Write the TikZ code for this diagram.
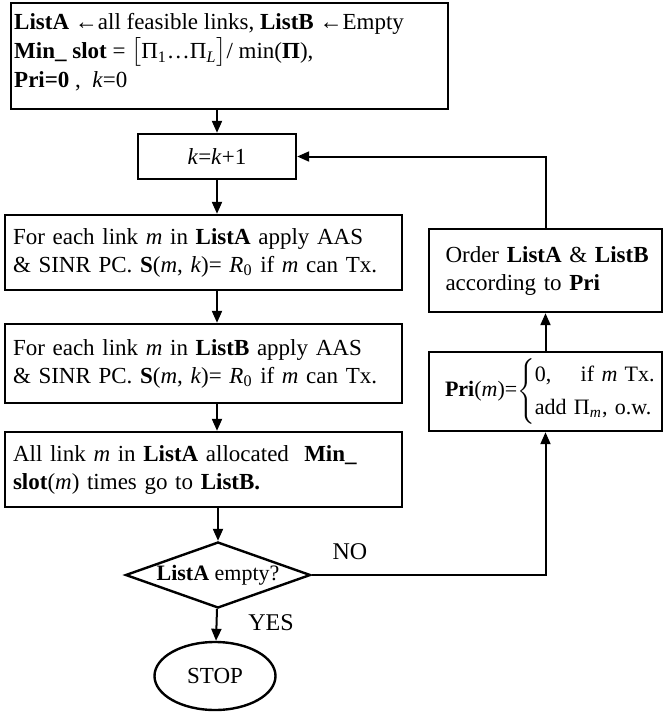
\documentclass[tikz,border=0pt]{standalone}
\usepackage{amsmath}
\usepackage{fontspec}
\setmainfont{Liberation Serif}
\usetikzlibrary{arrows.meta,shapes.geometric,calc}
\newcommand{\from}{←}
\tikzset{
  blk/.style={rectangle, draw, line width=1.2pt, align=left, inner xsep=4pt,
              font=\fontsize{11.5}{14}\selectfont},
  decide/.style={diamond, draw, line width=1.2pt, aspect=2.8, inner sep=0pt,
                 font=\fontsize{11}{12}\selectfont},
  term/.style={ellipse, draw, line width=1.2pt, font=\fontsize{11.5}{13}\selectfont},
  flow/.style={-{Triangle[length=6pt,width=5pt]}, line width=1pt},
  lbl/.style={font=\fontsize{12}{14}\selectfont}
}
\begin{document}
\begin{tikzpicture}[x=0.5pt,y=-0.5pt]
  \useasboundingbox (0,0) rectangle (667,714);
  % left column
  \node[blk, anchor=north west, inner xsep=1.5pt, inner ysep=5pt] (init) at (10,2)
       {\parbox[c][43pt][t]{215.5pt}{\raggedright\fontsize{11.5}{14.5}\selectfont
        \textbf{ListA} \from all feasible links, \textbf{ListB} \from Empty\\
        \textbf{Min\_ slot} = $\bigl[$Π\textsubscript{1}\ldots Π\textsubscript{\textit{L}}$\bigr]$/ min(\textbf{Π}),\\
        \textbf{Pri=0} ,\ \ \textit{k}=0}};
  \node[blk, align=center, minimum width=79pt, minimum height=22.5pt] (kstep) at (217,156.5)
       {\textit{k}=\textit{k}+1};
  \node[blk, text width=190.5pt, minimum height=37.5pt] (scanA) at (203.5,252.5)
       {\mbox{For each link \textit{m} in \textbf{ListA} apply AAS}\\
        \mbox{\& SINR PC.\ \textbf{S}(\textit{m}, \textit{k})= \textit{R}\textsubscript{0}\ if \textit{m} can Tx.}};
  \node[blk, text width=190.5pt, minimum height=39.5pt] (scanB) at (203.5,363.5)
       {\mbox{For each link \textit{m} in \textbf{ListB} apply AAS}\\
        \mbox{\& SINR PC.\ \textbf{S}(\textit{m}, \textit{k})= \textit{R}\textsubscript{0}\ if \textit{m} can Tx.}};
  \node[blk, text width=190.5pt, minimum height=37.5pt] (move) at (203.5,469.5)
       {\mbox{All link \textit{m} in \textbf{ListA} allocated\ \ \textbf{Min\_}}\\
        \mbox{\textbf{slot}(\textit{m}) times go to \textbf{ListB.}}};
  \node[decide, minimum width=92.5pt, minimum height=33pt] (check) at (218,575)
       {\textbf{ListA} empty?};
  \node[term, minimum width=60.5pt, minimum height=34pt] (stop) at (215,676) {STOP};
  % right column
  \node[blk, inner xsep=8.25pt, text width=100pt, minimum height=41.5pt] (order) at (545.5,270.5)
       {\mbox{Order \textbf{ListA} \& \textbf{ListB}}\\ \mbox{according to \textbf{Pri}}};
  \node[blk, inner xsep=8pt, text width=100.5pt, minimum height=38.5pt,
        font=\fontsize{11}{13}\selectfont] (pri) at (545.5,391.5)
       {\textbf{Pri}(\textit{m})=$\left\{\renewcommand{\arraystretch}{1.25}\begin{tabular}{@{}l@{}}0,\quad\ if \textit{m} Tx.\\
        add Π\textsubscript{\textit{m}}, o.w.\end{tabular}\right.$};
  \node[lbl] (no) at (350,552) {NO};
  \node[lbl] (yes) at (271,623) {YES};
  % connectors
  \draw[flow] (init.south -| kstep) -- (kstep);
  \draw[flow] (kstep) -- (kstep |- scanA.north);
  \draw[flow] (scanA.south -| kstep) -- (kstep |- scanB.north);
  \draw[flow] (scanB.south -| kstep) -- (kstep |- move.north);
  \draw[flow] (move.south -| check) -- (check);
  \draw[flow] (check) -- (stop);
  \draw[flow] (check.east) -| (pri.south);
  \draw[flow] (pri) -- (order);
  \draw[flow] (order.north) |- (kstep.east);
\end{tikzpicture}
\end{document}
